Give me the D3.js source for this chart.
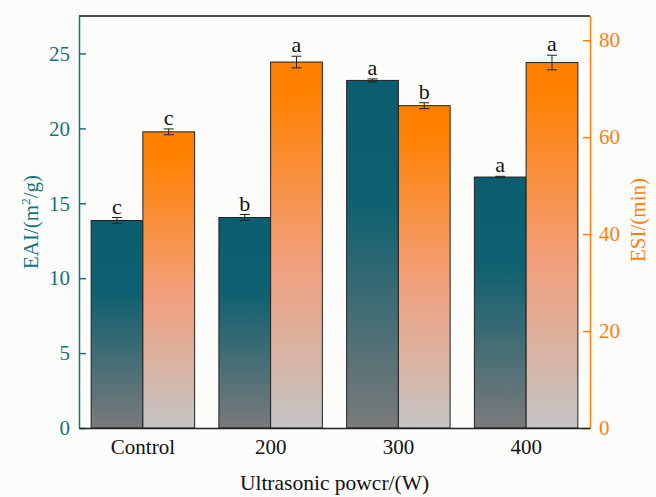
<!DOCTYPE html>
<meta charset="utf-8">
<style>
body { margin: 0; background: #fcfcfa; }
svg { font-family: "Liberation Serif", "Times New Roman", serif; }
</style>
<body>
<div id="chart"></div>
<script src="https://d3js.org/d3.v7.min.js"></script>
<script>
var categories = ['Control', '200', '300', '400'];
var eaiValues = [13.85, 14.05, 23.2, 16.75];
var eaiErrors = [0.2, 0.2, 0.1, 0.05];
var eaiLetters = ['c', 'b', 'a', 'a'];
var esiValues = [61.1, 75.5, 66.5, 75.4];
var esiErrors = [0.6, 1.2, 0.6, 1.5];
var esiLetters = ['c', 'a', 'b', 'a'];
var eaiTicks = [0, 5, 10, 15, 20, 25];
var esiTicks = [0, 20, 40, 60, 80];

var width = 656, height = 497;
var margin = {top: 16, right: 66, bottom: 69, left: 79};
var teal = '#17727c', orange = '#ff7f0e';

var svg = d3.select('#chart').append('svg')
    .attr('width', width)
    .attr('height', height);

var defs = svg.append('defs');

var gTeal = defs.append('linearGradient').attr('id', 'gradTeal')
    .attr('x1', 0).attr('y1', 0).attr('x2', 0).attr('y2', 1);
gTeal.append('stop').attr('offset', '0%').attr('stop-color', '#0b5e6f');
gTeal.append('stop').attr('offset', '35%').attr('stop-color', '#0e6170');
gTeal.append('stop').attr('offset', '100%').attr('stop-color', '#7a7a7a');

var gOrange = defs.append('linearGradient').attr('id', 'gradOrange')
    .attr('x1', 0).attr('y1', 0).attr('x2', 0).attr('y2', 1);
gOrange.append('stop').attr('offset', '0%').attr('stop-color', '#ff7f00');
gOrange.append('stop').attr('offset', '10%').attr('stop-color', '#ff8205');
gOrange.append('stop').attr('offset', '55%').attr('stop-color', '#f2a07c');
gOrange.append('stop').attr('offset', '100%').attr('stop-color', '#c4c4c4');

var plotW = width - margin.left - margin.right;
var plotH = height - margin.top - margin.bottom;

var g = svg.append('g')
    .attr('transform', 'translate(' + margin.left + ',' + margin.top + ')');

var x0 = d3.scaleBand()
    .domain(categories)
    .range([0, plotW])
    .paddingInner(0.19)
    .paddingOuter(0.095);

var x1 = d3.scaleBand()
    .domain(['eai', 'esi'])
    .range([0, x0.bandwidth()]);

var yL = d3.scaleLinear().domain([0, 27.5]).range([plotH, 0]);
var yR = d3.scaleLinear().domain([0, 85]).range([plotH, 0]);

// bars
var groups = g.selectAll('.grp')
    .data(categories)
  .enter().append('g')
    .attr('class', 'grp')
    .attr('transform', function(d) { return 'translate(' + x0(d) + ',0)'; });

function drawSeries(key, values, errors, letters, y, fill) {
  groups.append('rect')
      .attr('x', x1(key))
      .attr('width', x1.bandwidth())
      .attr('y', function(d, i) { return y(values[i]); })
      .attr('height', function(d, i) { return plotH - y(values[i]); })
      .attr('fill', fill)
      .attr('stroke', '#222')
      .attr('stroke-width', 1);

  var cx = x1(key) + x1.bandwidth() / 2;
  groups.append('path')
      .attr('d', function(d, i) {
        var t = y(values[i] + errors[i]), b = y(values[i] - errors[i]);
        return 'M' + cx + ',' + t + 'V' + b +
               'M' + (cx - 5) + ',' + t + 'H' + (cx + 5) +
               'M' + (cx - 5) + ',' + b + 'H' + (cx + 5);
      })
      .attr('stroke', '#222')
      .attr('stroke-width', 1)
      .attr('fill', 'none');

  groups.append('text')
      .attr('x', cx)
      .attr('y', function(d, i) { return y(values[i] + errors[i]) - 4; })
      .attr('text-anchor', 'middle')
      .attr('font-size', 22)
      .attr('fill', '#111')
      .text(function(d, i) { return letters[i]; });
}

drawSeries('eai', eaiValues, eaiErrors, eaiLetters, yL, 'url(#gradTeal)');
drawSeries('esi', esiValues, esiErrors, esiLetters, yR, 'url(#gradOrange)');

// frame top
g.append('line')
    .attr('x1', 0).attr('x2', plotW).attr('y1', 0).attr('y2', 0)
    .attr('stroke', '#111').attr('stroke-width', 1.5);

// left axis
var axL = g.append('g')
    .call(d3.axisLeft(yL).tickValues(eaiTicks).tickSize(-7).tickPadding(9).tickSizeOuter(0));
axL.select('.domain').attr('stroke', teal).attr('stroke-width', 1.5);
axL.selectAll('.tick line').attr('stroke', teal).attr('stroke-width', 1.5);
axL.selectAll('.tick text')
    .attr('fill', teal)
    .attr('font-size', 21)
    .attr('font-family', '"Liberation Serif", serif');

// right axis
var axR = g.append('g')
    .attr('transform', 'translate(' + plotW + ',0)')
    .call(d3.axisRight(yR).tickValues(esiTicks).tickSize(-7).tickPadding(9).tickSizeOuter(0));
axR.select('.domain').attr('stroke', orange).attr('stroke-width', 1.5);
axR.selectAll('.tick line').attr('stroke', orange).attr('stroke-width', 1.5);
axR.selectAll('.tick text')
    .attr('fill', orange)
    .attr('font-size', 21)
    .attr('font-family', '"Liberation Serif", serif');

// bottom axis
var axB = g.append('g')
    .attr('transform', 'translate(0,' + plotH + ')')
    .call(d3.axisBottom(x0).tickSize(0).tickPadding(11));
axB.select('.domain').attr('stroke', '#222').attr('stroke-width', 1.5);
axB.selectAll('.tick text')
    .attr('fill', '#111')
    .attr('font-size', 21)
    .attr('font-family', '"Liberation Serif", serif');

// axis titles
svg.append('text')
    .attr('x', margin.left + plotW / 2)
    .attr('y', 490)
    .attr('text-anchor', 'middle')
    .attr('font-size', 21.5)
    .attr('fill', '#111')
    .text('Ultrasonic powcr/(W)');

var leftTitle = svg.append('text')
    .attr('transform', 'translate(38,' + 222 + ') rotate(-90)')
    .attr('text-anchor', 'middle')
    .attr('font-size', 21)
    .attr('fill', teal);
leftTitle.append('tspan').text('EAI/(m');
leftTitle.append('tspan').attr('font-size', 13).attr('dy', -8).text('2');
leftTitle.append('tspan').attr('dy', 8).text('/g)');

svg.append('text')
    .attr('transform', 'translate(645,' + 220 + ') rotate(-90)')
    .attr('text-anchor', 'middle')
    .attr('font-size', 21)
    .attr('fill', orange)
    .text('ESI/(min)');
</script>
</body>
